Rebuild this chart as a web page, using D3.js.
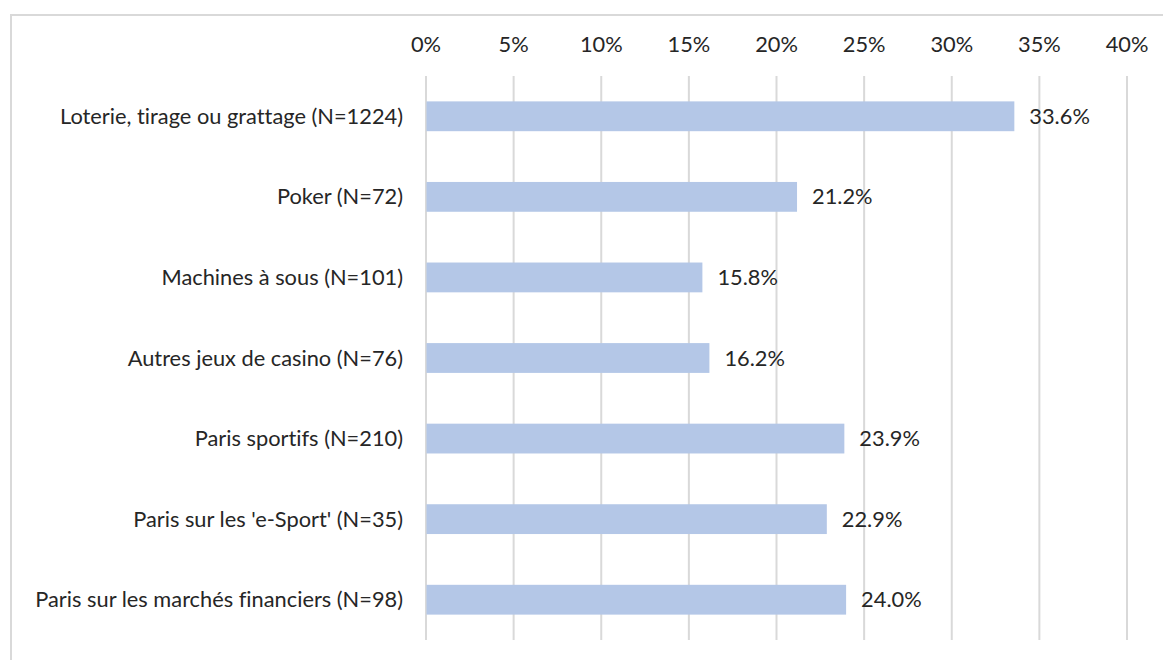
<!DOCTYPE html>
<html><head><meta charset="utf-8">
<script src="https://cdn.jsdelivr.net/npm/d3@7"></script>
<style>
body{margin:0;background:#fff;}
text{font-family:'Lato',sans-serif;fill:#262626;font-variant-ligatures:none;font-feature-settings:"liga" 0;}
</style></head>
<body>
<svg id="chart" width="1163" height="660"></svg>
<script>
const categories = [
  "Loterie, tirage ou grattage (N=1224)",
  "Poker (N=72)",
  "Machines à sous (N=101)",
  "Autres jeux de casino (N=76)",
  "Paris sportifs (N=210)",
  "Paris sur les 'e-Sport' (N=35)",
  "Paris sur les marchés financiers (N=98)"
];
const values = [0.336, 0.212, 0.158, 0.162, 0.239, 0.229, 0.240];
const tickValues = [0, 0.05, 0.10, 0.15, 0.20, 0.25, 0.30, 0.35, 0.40];

const svg = d3.select("#chart");
const W = 1163, H = 660;
const plot = {left: 425.5, right: 1126.5, top: 76, bottom: 640};
const fontSize = "21.8px";

// frame
svg.append("line").attr("x1", 10).attr("x2", W).attr("y1", 15).attr("y2", 15)
  .attr("stroke", "#d9d9d9").attr("stroke-width", 2);
svg.append("line").attr("x1", 11).attr("x2", 11).attr("y1", 14).attr("y2", H)
  .attr("stroke", "#d9d9d9").attr("stroke-width", 2);

const x = d3.scaleLinear().domain([0, 0.40]).range([plot.left, plot.right]);
const y = d3.scaleBand().domain(categories).range([plot.top, plot.bottom])
  .paddingInner(0.63).paddingOuter(0.315);

// gridlines
const grid = svg.append("g").attr("transform", `translate(0,${plot.bottom})`)
  .call(d3.axisBottom(x).tickValues(tickValues).tickSize(-(plot.bottom - plot.top)).tickFormat(""));
grid.select(".domain").remove();
grid.selectAll(".tick line").attr("stroke", "#d9d9d9").attr("stroke-width", 2);

// top tick labels
const topAxis = svg.append("g").attr("transform", `translate(0,${plot.top})`)
  .call(d3.axisTop(x).tickValues(tickValues).tickSize(0).tickPadding(24).tickFormat(d3.format(".0%")));
topAxis.select(".domain").remove();
topAxis.selectAll("text").style("font-size", fontSize).attr("fill", "#262626").style("font-family", "Lato");

// bars
svg.append("g").selectAll("rect").data(values).join("rect")
  .attr("x", x(0) + 1)
  .attr("y", (d, i) => y(categories[i]))
  .attr("width", d => x(d) - x(0) - 1)
  .attr("height", y.bandwidth())
  .attr("fill", "#b4c7e7");

// category labels
svg.append("g").selectAll("text").data(categories).join("text")
  .attr("x", 403)
  .attr("y", d => y(d) + y.bandwidth() / 2)
  .attr("dy", "0.35em")
  .attr("text-anchor", "end")
  .style("font-size", fontSize)
  .text(d => d);

// value labels
svg.append("g").selectAll("text").data(values).join("text")
  .attr("x", d => x(d) + 15)
  .attr("y", (d, i) => y(categories[i]) + y.bandwidth() / 2)
  .attr("dy", "0.35em")
  .style("font-size", fontSize)
  .text(d => d3.format(".1%")(d));
</script>
</body></html>
